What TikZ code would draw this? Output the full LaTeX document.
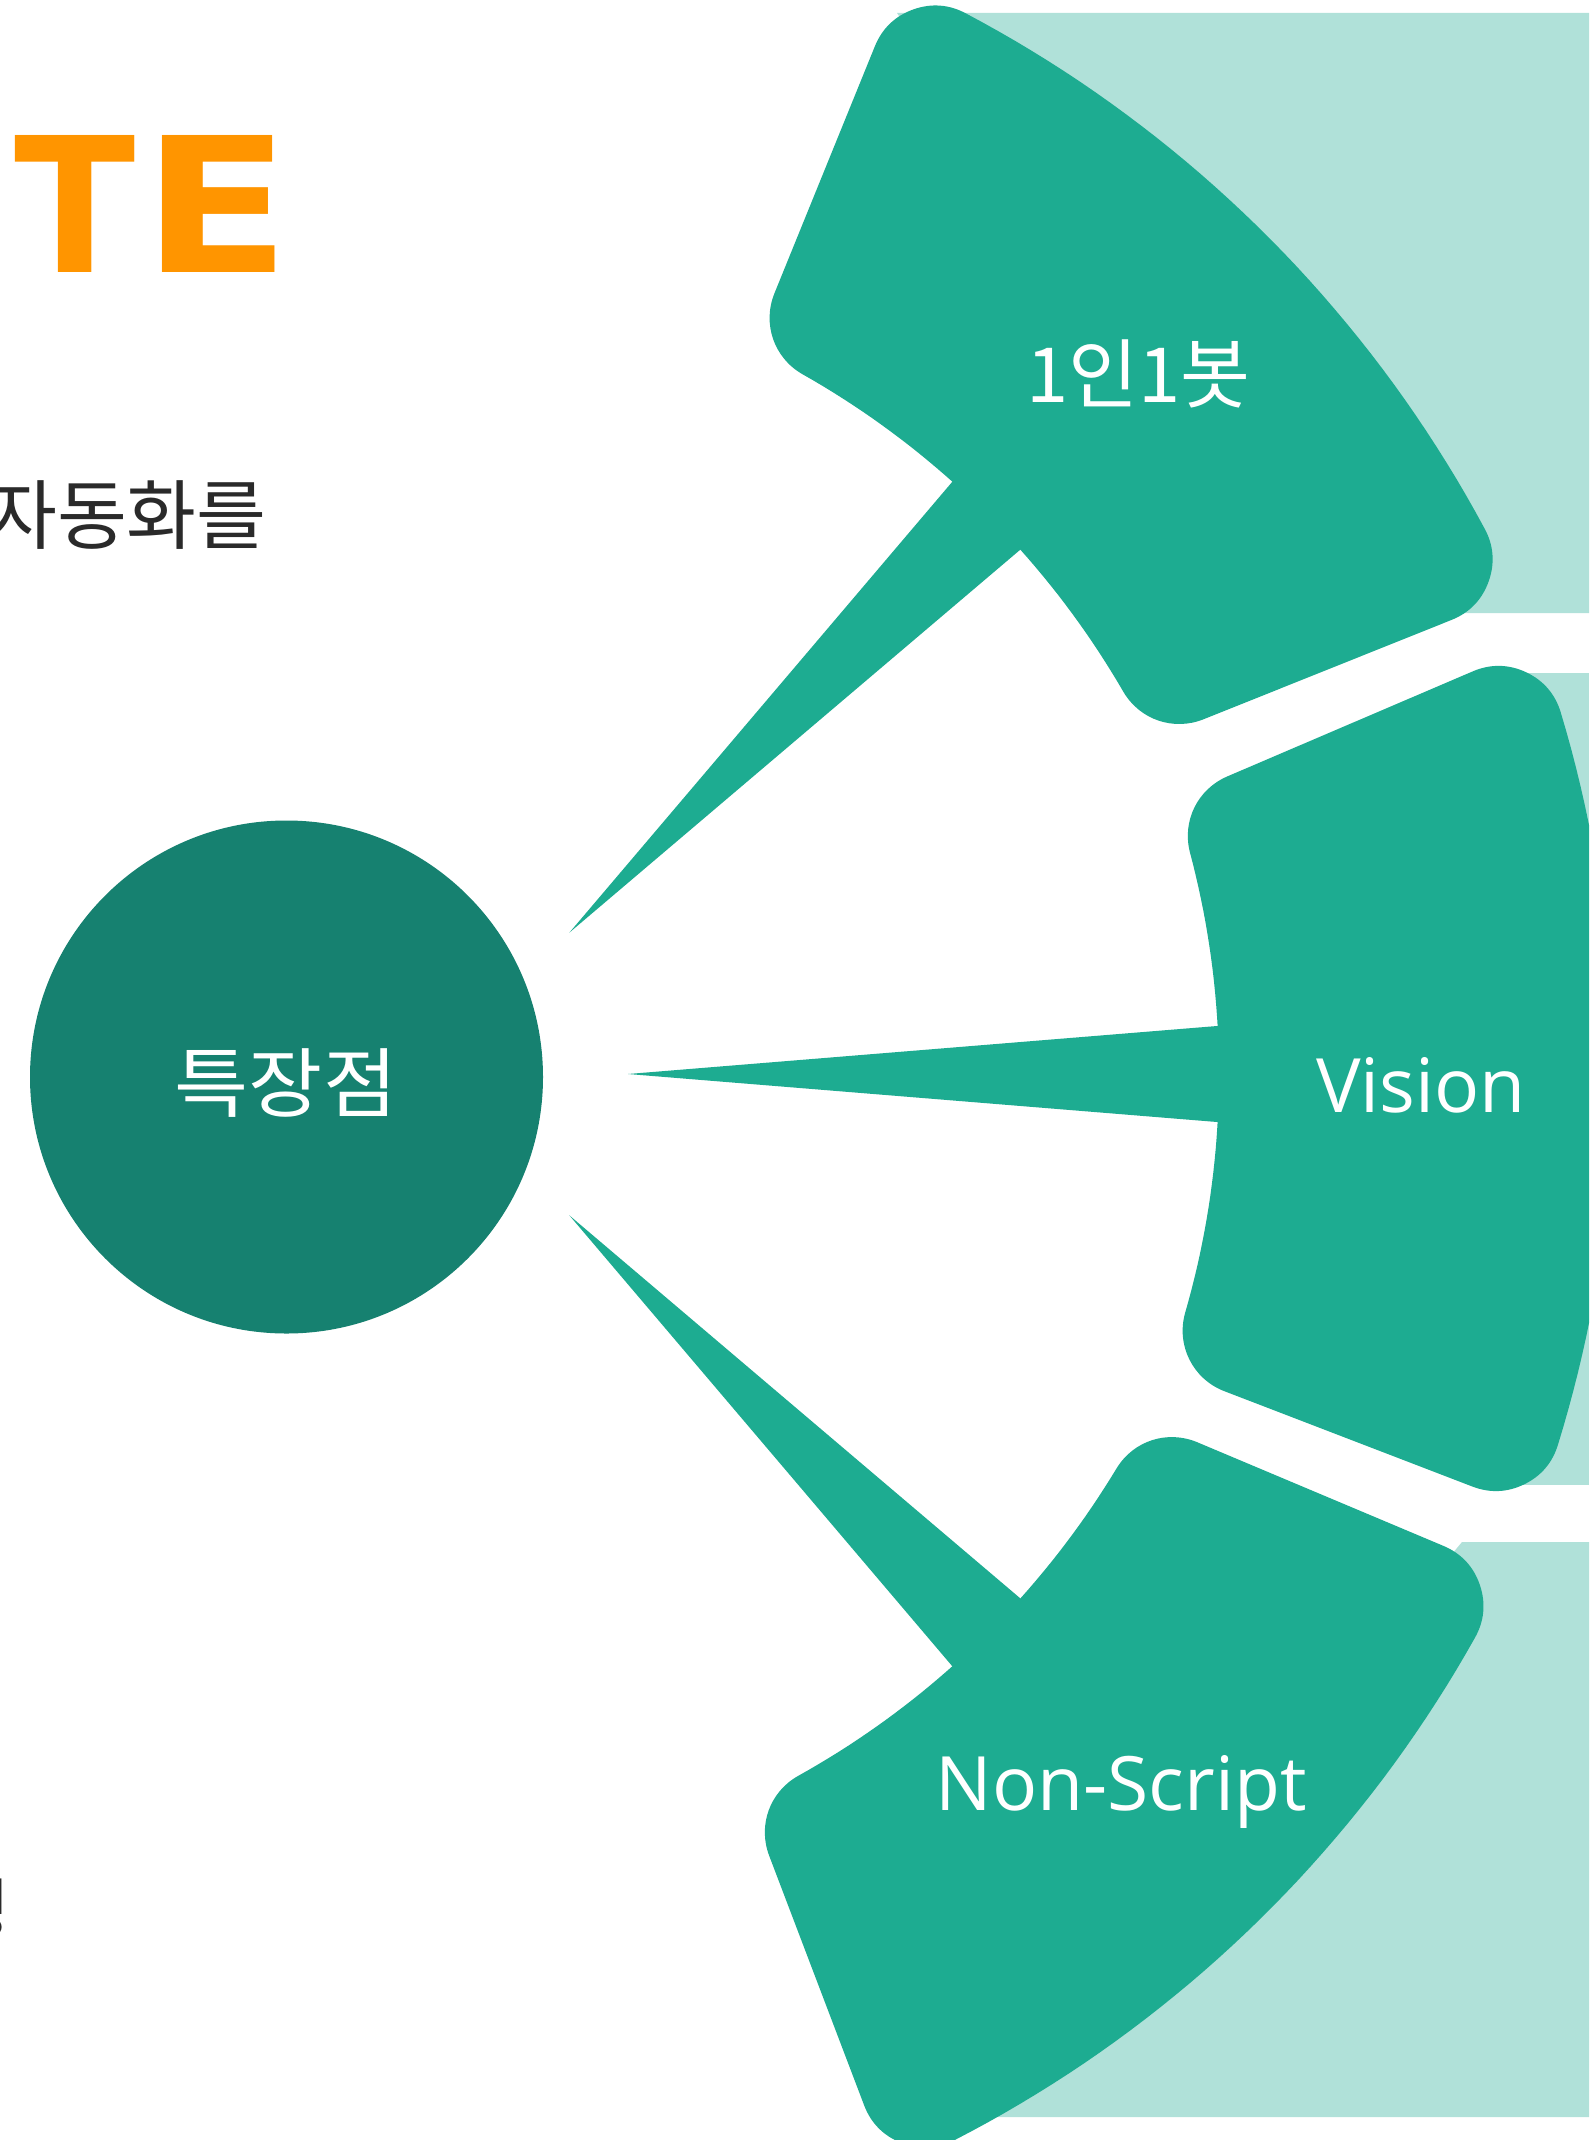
\documentclass[tikz,border=0pt]{standalone}
\usepackage{fontspec}
\usepackage{graphicx}
\setmainfont{Noto Sans CJK KR}
\newfontfamily\latinfont{Open Sans}
\newfontfamily\titlefont{DejaVu Sans}
\definecolor{shapeteal}{HTML}{1DAC91}
\definecolor{lightteal}{HTML}{B0E1D9}
\definecolor{circteal}{HTML}{168170}
\definecolor{titleorange}{HTML}{FF9500}
\definecolor{darktext}{HTML}{2A2A2A}
\tikzset{
  sectorshape/.style={fill=shapeteal, draw=shapeteal, line width=130pt, line join=round},
  sectorpath/.style n args={4}{insert path={
    plot[domain=-#1:#3,samples=40] ({-69+925*cos(\x)},{925*sin(\x)})
    -- plot[domain=#4:-#2,samples=40] ({-69+1190*cos(\x)},{1190*sin(\x)}) -- cycle}},
  pointer/.style={fill=shapeteal},
  lbl/.style={text=white, inner sep=0pt, font=\fontsize{76}{80}\selectfont},
  latlbl/.style={text=white, inner sep=0pt, font=\latinfont\fontsize{75}{80}\selectfont},
  side/.style={text=darktext, inner sep=0pt, font=\fontsize{76}{80}\selectfont}
}
\begin{document}
\begin{tikzpicture}[x=1pt,y=-1pt]
\useasboundingbox (0,0) rectangle (1589,2140);
\clip (0,0) rectangle (1589,2140);
\fill[white] (0,0) rectangle (1589,2140);
% light backgrounds
\fill[lightteal] (897,13) -- (1589,13) -- (1589,613) -- (1300,613) -- cycle;
\fill[lightteal] (1495,673) -- (1589,673) -- (1589,1485) -- (1495,1485) -- cycle;
\fill[lightteal] (1462,1542) -- (1589,1542) -- (1589,2117) -- (980,2117) -- cycle;
% sector shapes
\begin{scope}[shift={(428,1074)}, rotate=45]
  \path[sectorshape, sectorpath={15.5}{17.15}{14.9}{16.75}];
\end{scope}
\begin{scope}[shift={(428,1074)}]
  \path[sectorshape, sectorpath={14.9}{16.75}{16.1}{17.2}];
\end{scope}
\begin{scope}[shift={(428,1074)}, rotate=-46]
  \path[sectorshape, sectorpath={14.9}{16.75}{14.9}{16.75}];
\end{scope}
% pointers
\begin{scope}[shift={(428,1074)}, rotate=45]
  \fill[pointer] (200,0) -- (789,-48) -- (870,-48) -- (870,48) -- (789,48) -- cycle;
\end{scope}
\begin{scope}[shift={(428,1074)}]
  \fill[pointer] (200,0) -- (789,-48) -- (870,-48) -- (870,48) -- (789,48) -- cycle;
\end{scope}
\begin{scope}[shift={(428,1074)}, rotate=-45]
  \fill[pointer] (200,0) -- (789,-48) -- (870,-48) -- (870,48) -- (789,48) -- cycle;
\end{scope}
% centre circle
\fill[circteal] (286.5,1077) circle[radius=256.5pt];
% labels
\node[lbl, anchor=base] (center) at (286,1111) {\scalebox{1.06}[1]{특장점}};
\node[lbl, anchor=base] (bot) at (1138.5,402) {1인1봇};
\node[latlbl, anchor=base] (vision) at (1421,1112) {Vision};
\node[latlbl, anchor=base] (nonscript) at (1121,1810) {Non-Script};
% left slide remnants
\node[inner sep=0pt, anchor=base west, text=titleorange, font=\titlefont\bfseries\fontsize{188}{190}\selectfont] (title) at (14,273) {\scalebox{0.945}[1]{T}\kern7.4pt\scalebox{1.155}[1]{E}};
\node[side, anchor=base east] (auto) at (267,543) {자동화를};
\node[side, anchor=base west, font=\fontsize{66}{70}\selectfont] (frag) at (-51,1933) {정};
\end{tikzpicture}
\end{document}
